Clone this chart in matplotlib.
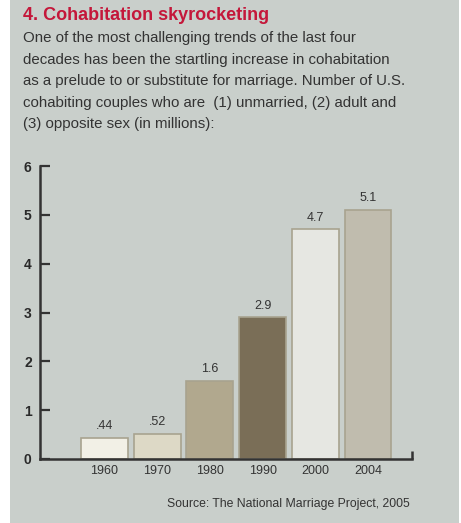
import matplotlib.pyplot as plt
from matplotlib.patches import Rectangle

years = ["1960", "1970", "1980", "1990", "2000", "2004"]
couples = [0.44, 0.52, 1.6, 2.9, 4.7, 5.1]
value_labels = [".44", ".52", "1.6", "2.9", "4.7", "5.1"]
bar_colors = ["#f2f0e6", "#ddd9c6", "#b1a88e", "#7a6e57", "#e6e7e2", "#c0bcae"]

title = "4. Cohabitation skyrocketing"
intro = [
    "One of the most challenging trends of the last four",
    "decades has been the startling increase in cohabitation",
    "as a prelude to or substitute for marriage. Number of U.S.",
    "cohabiting couples who are  (1) unmarried, (2) adult and",
    "(3) opposite sex (in millions):",
]
source = "Source: The National Marriage Project, 2005"

narrow = ["Liberation Sans Narrow", "Liberation Sans", "DejaVu Sans"]
bg = "#c9cfcb"
ink = "#333333"

fig = plt.figure(figsize=(4.61, 5.23), dpi=100)
fig.patch.set_facecolor("white")
fig.patches.append(Rectangle((10 / 461, 0), 449 / 461, 1, transform=fig.transFigure,
                             facecolor=bg, edgecolor="none", zorder=-5))

fig.text(23 / 461, 1 - 16 / 523, title, color="#c4173a", fontsize=13, fontweight="bold",
         family=["Liberation Sans", "DejaVu Sans"], va="center", ha="left")
for i, line in enumerate(intro):
    fig.text(23 / 461, 1 - (38 + i * 21.6) / 523, line, color=ink, fontsize=10.8,
             family=narrow, va="center", ha="left")

ax = fig.add_axes([40 / 461, 64 / 523, 372 / 461, 293 / 523])
ax.set_zorder(2)
ax.set_facecolor("none")
x = range(len(years))
ax.bar(x, couples, width=0.89, color=bar_colors, edgecolor="#a8a38f", linewidth=1.2, zorder=2)
for xi, v, lab in zip(x, couples, value_labels):
    ax.annotate(lab, (xi, v), xytext=(0, 4), textcoords="offset points", ha="center",
                va="bottom", fontsize=9, color=ink, family=narrow)

ax.set_xlim(-1.224, 5.835)
ax.set_ylim(0, 6)
ax.set_yticks(range(7))
ax.set_xticks(list(x))
ax.set_xticklabels(years, family=narrow, fontsize=9, color=ink)
for lab in ax.get_yticklabels():
    lab.set_fontweight("bold")
    lab.set_family(["Liberation Sans", "DejaVu Sans"])
ax.tick_params(axis="y", direction="in", length=7, width=1.6, color=ink, labelsize=10,
               labelcolor="#2a2a2a", pad=6)
ax.tick_params(axis="x", length=0, pad=4)
for side in ["top", "right"]:
    ax.spines[side].set_visible(False)
for side in ["left", "bottom"]:
    ax.spines[side].set_linewidth(1.8)
    ax.spines[side].set_color(ink)
ax.plot([1, 1], [0, 0.028], transform=ax.transAxes, color=ink, lw=1.8,
        solid_capstyle="butt", clip_on=False)

fig.text(410 / 461, 1 - 504 / 523, source, color=ink, fontsize=8.8, family=narrow,
         ha="right", va="center")

fig.savefig("out.png", dpi=100, facecolor=fig.get_facecolor())
